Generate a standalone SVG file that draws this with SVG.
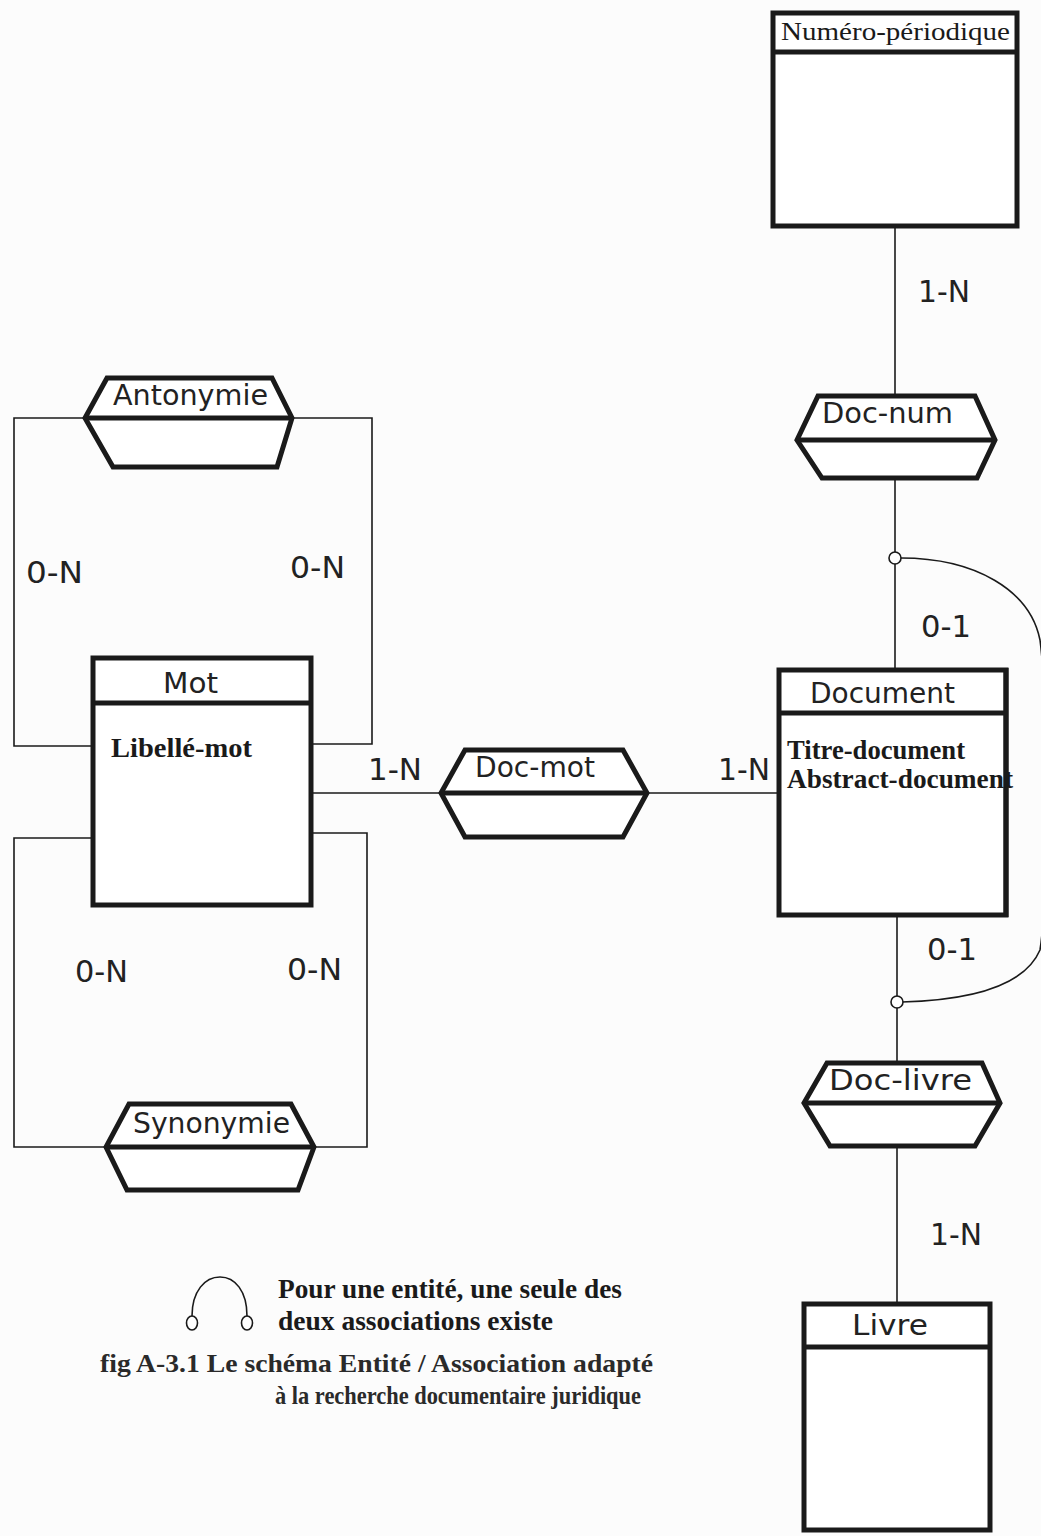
<svg xmlns="http://www.w3.org/2000/svg" width="1041" height="1536" viewBox="0 0 1041 1536">
<style>
.bg{fill:#fcfcfc}
.ent{fill:#fff;stroke:#1a1a1a;stroke-width:5}
.hdr{stroke:#1a1a1a;stroke-width:5}
.hex{fill:#fff;stroke:#1a1a1a;stroke-width:5;stroke-linejoin:miter}
.conn{fill:none;stroke:#1a1a1a;stroke-width:1.6}
.dot{fill:#fff;stroke:#1a1a1a;stroke-width:1.6}
.lbl{font-family:"DejaVu Sans",sans-serif;font-size:28px;fill:#222}
.card{font-family:"DejaVu Sans",sans-serif;font-size:30px;fill:#222}
.ser{font-family:"Liberation Serif",serif;font-size:27px;font-weight:bold;fill:#1a1a1a}
.serr{font-family:"Liberation Serif",serif;font-size:26px;fill:#1a1a1a}
.cap{font-family:"Liberation Serif",serif;font-size:26px;font-weight:bold;fill:#2a2a2a}
</style>
<rect class="bg" x="0" y="0" width="1041" height="1536"/>

<g id="connectors">
  <line class="conn" x1="895" y1="226" x2="895" y2="396"/>
  <line class="conn" x1="895" y1="478" x2="895" y2="670"/>
  <line class="conn" x1="897" y1="915" x2="897" y2="1063"/>
  <line class="conn" x1="897" y1="1146" x2="897" y2="1304"/>
  <line class="conn" x1="311" y1="793" x2="441" y2="793"/>
  <line class="conn" x1="647" y1="793" x2="779" y2="793"/>
  <path class="conn" d="M85,418 H14 V746 H93"/>
  <path class="conn" d="M292,418 H372 V744 H311"/>
  <path class="conn" d="M93,838 H14 V1147 H106"/>
  <path class="conn" d="M311,833 H367 V1147 H314"/>
  <path class="conn" d="M901,558 C975,558 1030,590 1040,640 C1048,700 1048,900 1040,950 C1025,985 975,1000 902,1002"/>
  <circle class="dot" cx="895" cy="558" r="6"/>
  <circle class="dot" cx="897" cy="1002" r="6"/>
</g>

<g id="numero-periodique">
  <rect class="ent" x="773" y="13" width="244" height="213"/>
  <line class="hdr" x1="773" y1="52" x2="1017" y2="52"/>
  <text class="serr" x="781" y="40" textLength="229" lengthAdjust="spacingAndGlyphs">Numéro-périodique</text>
</g>

<g id="doc-num">
  <path class="hex" d="M818,396 L975,396 L995,440 L977,478 L822,478 L797,440 Z"/>
  <line class="hdr" x1="797" y1="440" x2="995" y2="440"/>
  <text class="lbl" x="822" y="423" textLength="131" lengthAdjust="spacingAndGlyphs">Doc-num</text>
</g>

<g id="antonymie">
  <path class="hex" d="M107,378 L272,378 L292,418 L277,467 L113,467 L85,418 Z"/>
  <line class="hdr" x1="85" y1="418" x2="292" y2="418"/>
  <text class="lbl" x="113" y="405" textLength="155" lengthAdjust="spacingAndGlyphs">Antonymie</text>
</g>

<g id="mot">
  <rect class="ent" x="93" y="658" width="218" height="247"/>
  <line class="hdr" x1="93" y1="703" x2="311" y2="703"/>
  <text class="lbl" x="163" y="693" textLength="55" lengthAdjust="spacingAndGlyphs">Mot</text>
  <text class="ser" x="111" y="757" textLength="141" lengthAdjust="spacingAndGlyphs">Libellé-mot</text>
</g>

<g id="doc-mot">
  <path class="hex" d="M465,750 L623,750 L647,793 L623,837 L465,837 L441,793 Z"/>
  <line class="hdr" x1="441" y1="793" x2="647" y2="793"/>
  <text class="lbl" x="475" y="777" textLength="120" lengthAdjust="spacingAndGlyphs">Doc-mot</text>
</g>

<g id="document">
  <rect class="ent" x="779" y="670" width="227" height="245"/>
  <line class="hdr" x1="779" y1="713" x2="1006" y2="713"/>
  <text class="lbl" x="810" y="703" textLength="145" lengthAdjust="spacingAndGlyphs">Document</text>
  <text class="ser" x="787" y="759" textLength="178" lengthAdjust="spacingAndGlyphs">Titre-document</text>
  <text class="ser" x="787" y="788" textLength="226" lengthAdjust="spacingAndGlyphs">Abstract-document</text>
  <line class="hdr" x1="1006" y1="668" x2="1006" y2="917"/>
</g>

<g id="synonymie">
  <path class="hex" d="M129,1104 L291,1104 L314,1147 L298,1190 L127,1190 L106,1147 Z"/>
  <line class="hdr" x1="106" y1="1147" x2="314" y2="1147"/>
  <text class="lbl" x="133" y="1133" textLength="157" lengthAdjust="spacingAndGlyphs">Synonymie</text>
</g>

<g id="doc-livre">
  <path class="hex" d="M827,1063 L982,1063 L1000,1103 L975,1146 L830,1146 L804,1103 Z"/>
  <line class="hdr" x1="804" y1="1103" x2="1000" y2="1103"/>
  <text class="lbl" x="829" y="1090" textLength="143" lengthAdjust="spacingAndGlyphs">Doc-livre</text>
</g>

<g id="livre">
  <rect class="ent" x="804" y="1304" width="186" height="226"/>
  <line class="hdr" x1="804" y1="1347" x2="990" y2="1347"/>
  <text class="lbl" x="852" y="1335" textLength="76" lengthAdjust="spacingAndGlyphs">Livre</text>
</g>

<g id="cardinalities">
  <text class="card" x="918" y="302" textLength="52" lengthAdjust="spacingAndGlyphs">1-N</text>
  <text class="card" x="26" y="583" textLength="57" lengthAdjust="spacingAndGlyphs">0-N</text>
  <text class="card" x="290" y="578" textLength="55" lengthAdjust="spacingAndGlyphs">0-N</text>
  <text class="card" x="921" y="637" textLength="50" lengthAdjust="spacingAndGlyphs">0-1</text>
  <text class="card" x="368" y="780" textLength="54" lengthAdjust="spacingAndGlyphs">1-N</text>
  <text class="card" x="718" y="780" textLength="52" lengthAdjust="spacingAndGlyphs">1-N</text>
  <text class="card" x="927" y="960" textLength="50" lengthAdjust="spacingAndGlyphs">0-1</text>
  <text class="card" x="75" y="982" textLength="53" lengthAdjust="spacingAndGlyphs">0-N</text>
  <text class="card" x="287" y="980" textLength="55" lengthAdjust="spacingAndGlyphs">0-N</text>
  <text class="card" x="930" y="1245" textLength="52" lengthAdjust="spacingAndGlyphs">1-N</text>
</g>

<g id="legend">
  <path class="conn" d="M192,1316 C192,1291 205,1277 220,1277 C235,1277 247,1291 247,1316"/>
  <ellipse class="dot" cx="192" cy="1323" rx="5.5" ry="7"/>
  <ellipse class="dot" cx="247" cy="1323" rx="5.5" ry="7"/>
  <text class="ser" x="278" y="1298" textLength="344" lengthAdjust="spacingAndGlyphs">Pour une entité, une seule des</text>
  <text class="ser" x="278" y="1330" textLength="275" lengthAdjust="spacingAndGlyphs">deux associations existe</text>
</g>

<g id="caption">
  <text class="cap" x="100" y="1372" textLength="553" lengthAdjust="spacingAndGlyphs">fig A-3.1  Le schéma  Entité / Association adapté</text>
  <text class="cap" x="275" y="1404" textLength="366" lengthAdjust="spacingAndGlyphs">à la  recherche documentaire juridique</text>
</g>
</svg>
